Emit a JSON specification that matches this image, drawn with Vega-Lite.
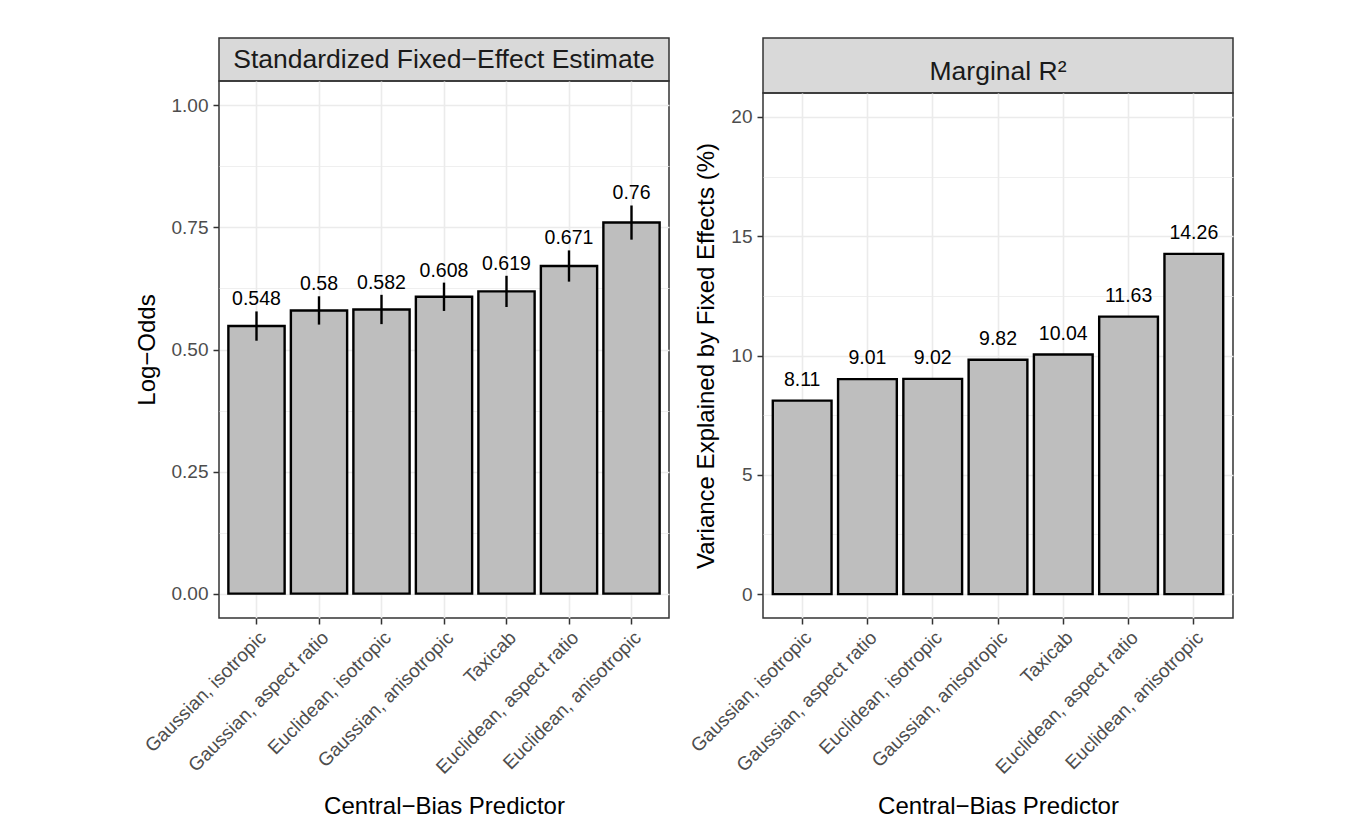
{
  "$schema": "https://vega.github.io/schema/vega-lite/v6.json",
  "background": "white",
  "padding": {"left": 134, "top": 37, "right": 5, "bottom": 5},
  "datasets": {
    "est": [
      {"predictor": "Gaussian, isotropic", "est": 0.548, "lower": 0.518, "upper": 0.578},
      {"predictor": "Gaussian, aspect ratio", "est": 0.58, "lower": 0.551, "upper": 0.609},
      {"predictor": "Euclidean, isotropic", "est": 0.582, "lower": 0.552, "upper": 0.612},
      {"predictor": "Gaussian, anisotropic", "est": 0.608, "lower": 0.579, "upper": 0.637},
      {"predictor": "Taxicab", "est": 0.619, "lower": 0.587, "upper": 0.651},
      {"predictor": "Euclidean, aspect ratio", "est": 0.671, "lower": 0.639, "upper": 0.703},
      {"predictor": "Euclidean, anisotropic", "est": 0.76, "lower": 0.725, "upper": 0.795}
    ],
    "r2": [
      {"predictor": "Gaussian, isotropic", "r2": 8.11},
      {"predictor": "Gaussian, aspect ratio", "r2": 9.01},
      {"predictor": "Euclidean, isotropic", "r2": 9.02},
      {"predictor": "Gaussian, anisotropic", "r2": 9.82},
      {"predictor": "Taxicab", "r2": 10.04},
      {"predictor": "Euclidean, aspect ratio", "r2": 11.63},
      {"predictor": "Euclidean, anisotropic", "r2": 14.26}
    ]
  },
  "config": {
    "font": "Liberation Sans",
    "view": {"stroke": "#333333", "strokeWidth": 1.5},
    "axis": {
      "domain": false,
      "tickColor": "#333333",
      "tickWidth": 1.5,
      "tickSize": 6,
      "labelColor": "#4d4d4d",
      "labelFont": "Liberation Sans",
      "labelFontSize": 19,
      "labelPadding": 5,
      "labelLimit": 0,
      "titleFont": "Liberation Sans",
      "titleFontSize": 24,
      "titleFontWeight": "normal",
      "titleColor": "#000000",
      "gridColor": "#ebebeb",
      "gridWidth": 1.6
    }
  },
  "spacing": 16,
  "hconcat": [
    {
      "spacing": 0,
      "bounds": "flush",
      "vconcat": [
        {
          "width": 450,
          "height": 43,
          "view": {"fill": "#d9d9d9", "stroke": "#333333", "strokeWidth": 1.5},
          "data": {"values": [{"panel": "Standardized Fixed−Effect Estimate"}]},
          "mark": {"type": "text", "fontSize": 26.5, "color": "#1a1a1a", "font": "Liberation Sans"},
          "encoding": {"text": {"field": "panel"}}
        },
        {
          "width": 450,
          "height": 537,
          "data": {"name": "est"},
          "resolve": {"axis": {"y": "independent"}},
          "layer": [
            {
              "mark": {"type": "bar", "fill": "#bebebe", "stroke": "#000000", "strokeWidth": 2.4},
              "encoding": {
                "x": {
                  "field": "predictor", "type": "nominal", "sort": null,
                  "scale": {"paddingInner": 0.1, "paddingOuter": 0.15},
                  "axis": {"title": "Central−Bias Predictor", "labelAngle": -45, "labelAlign": "right", "labelBaseline": "top", "labelPadding": 4, "titlePadding": 17, "grid": true, "bandPosition": 0.5}
                },
                "y": {
                  "field": "est", "type": "quantitative",
                  "scale": {"domain": [-0.05, 1.05], "nice": false, "zero": false},
                  "axis": {"title": "Log−Odds", "values": [0, 0.25, 0.5, 0.75, 1], "format": ".2f", "titlePadding": 12, "grid": true}
                },
                "y2": {"datum": 0}
              }
            },
            {
              "mark": {"type": "rule", "color": "#000000", "strokeWidth": 2.4},
              "encoding": {
                "x": {"field": "predictor", "type": "nominal", "sort": null},
                "y": {
                  "field": "lower", "type": "quantitative",
                  "axis": {"orient": "right", "title": null, "labels": false, "ticks": false, "domain": false, "grid": true, "gridWidth": 0.8, "values": [0.125, 0.375, 0.625, 0.875]}
                },
                "y2": {"field": "upper"}
              }
            },
            {
              "mark": {"type": "text", "fontSize": 19.5, "color": "#000000", "baseline": "middle", "dy": -12},
              "encoding": {
                "x": {"field": "predictor", "type": "nominal", "sort": null},
                "y": {"field": "upper", "type": "quantitative", "axis": null},
                "text": {"field": "est", "type": "quantitative"}
              }
            }
          ]
        }
      ]
    },
    {
      "spacing": 0,
      "bounds": "flush",
      "vconcat": [
        {
          "width": 470,
          "height": 55,
          "view": {"fill": "#d9d9d9", "stroke": "#333333", "strokeWidth": 1.5},
          "data": {"values": [{"panel": "Marginal R²"}]},
          "mark": {"type": "text", "fontSize": 26.5, "color": "#1a1a1a", "font": "Liberation Sans", "dy": 6},
          "encoding": {"text": {"field": "panel"}}
        },
        {
          "width": 470,
          "height": 525,
          "data": {"name": "r2"},
          "resolve": {"axis": {"y": "independent"}},
          "layer": [
            {
              "mark": {"type": "bar", "fill": "#bebebe", "stroke": "#000000", "strokeWidth": 2.4},
              "encoding": {
                "x": {
                  "field": "predictor", "type": "nominal", "sort": null,
                  "scale": {"paddingInner": 0.1, "paddingOuter": 0.15},
                  "axis": {"title": "Central−Bias Predictor", "labelAngle": -45, "labelAlign": "right", "labelBaseline": "top", "labelPadding": 4, "titlePadding": 17, "grid": true, "bandPosition": 0.5}
                },
                "y": {
                  "field": "r2", "type": "quantitative",
                  "scale": {"domain": [-1, 21], "nice": false, "zero": false},
                  "axis": {"title": "Variance Explained by Fixed Effects (%)", "values": [0, 5, 10, 15, 20], "titlePadding": 12, "grid": true}
                },
                "y2": {"datum": 0}
              }
            },
            {
              "mark": {"type": "text", "fontSize": 19.5, "color": "#000000", "baseline": "middle", "dy": -21},
              "encoding": {
                "x": {"field": "predictor", "type": "nominal", "sort": null},
                "y": {
                  "field": "r2", "type": "quantitative",
                  "axis": {"orient": "right", "title": null, "labels": false, "ticks": false, "domain": false, "grid": true, "gridWidth": 0.8, "values": [2.5, 7.5, 12.5, 17.5]}
                },
                "text": {"field": "r2", "type": "quantitative"}
              }
            }
          ]
        }
      ]
    }
  ]
}
